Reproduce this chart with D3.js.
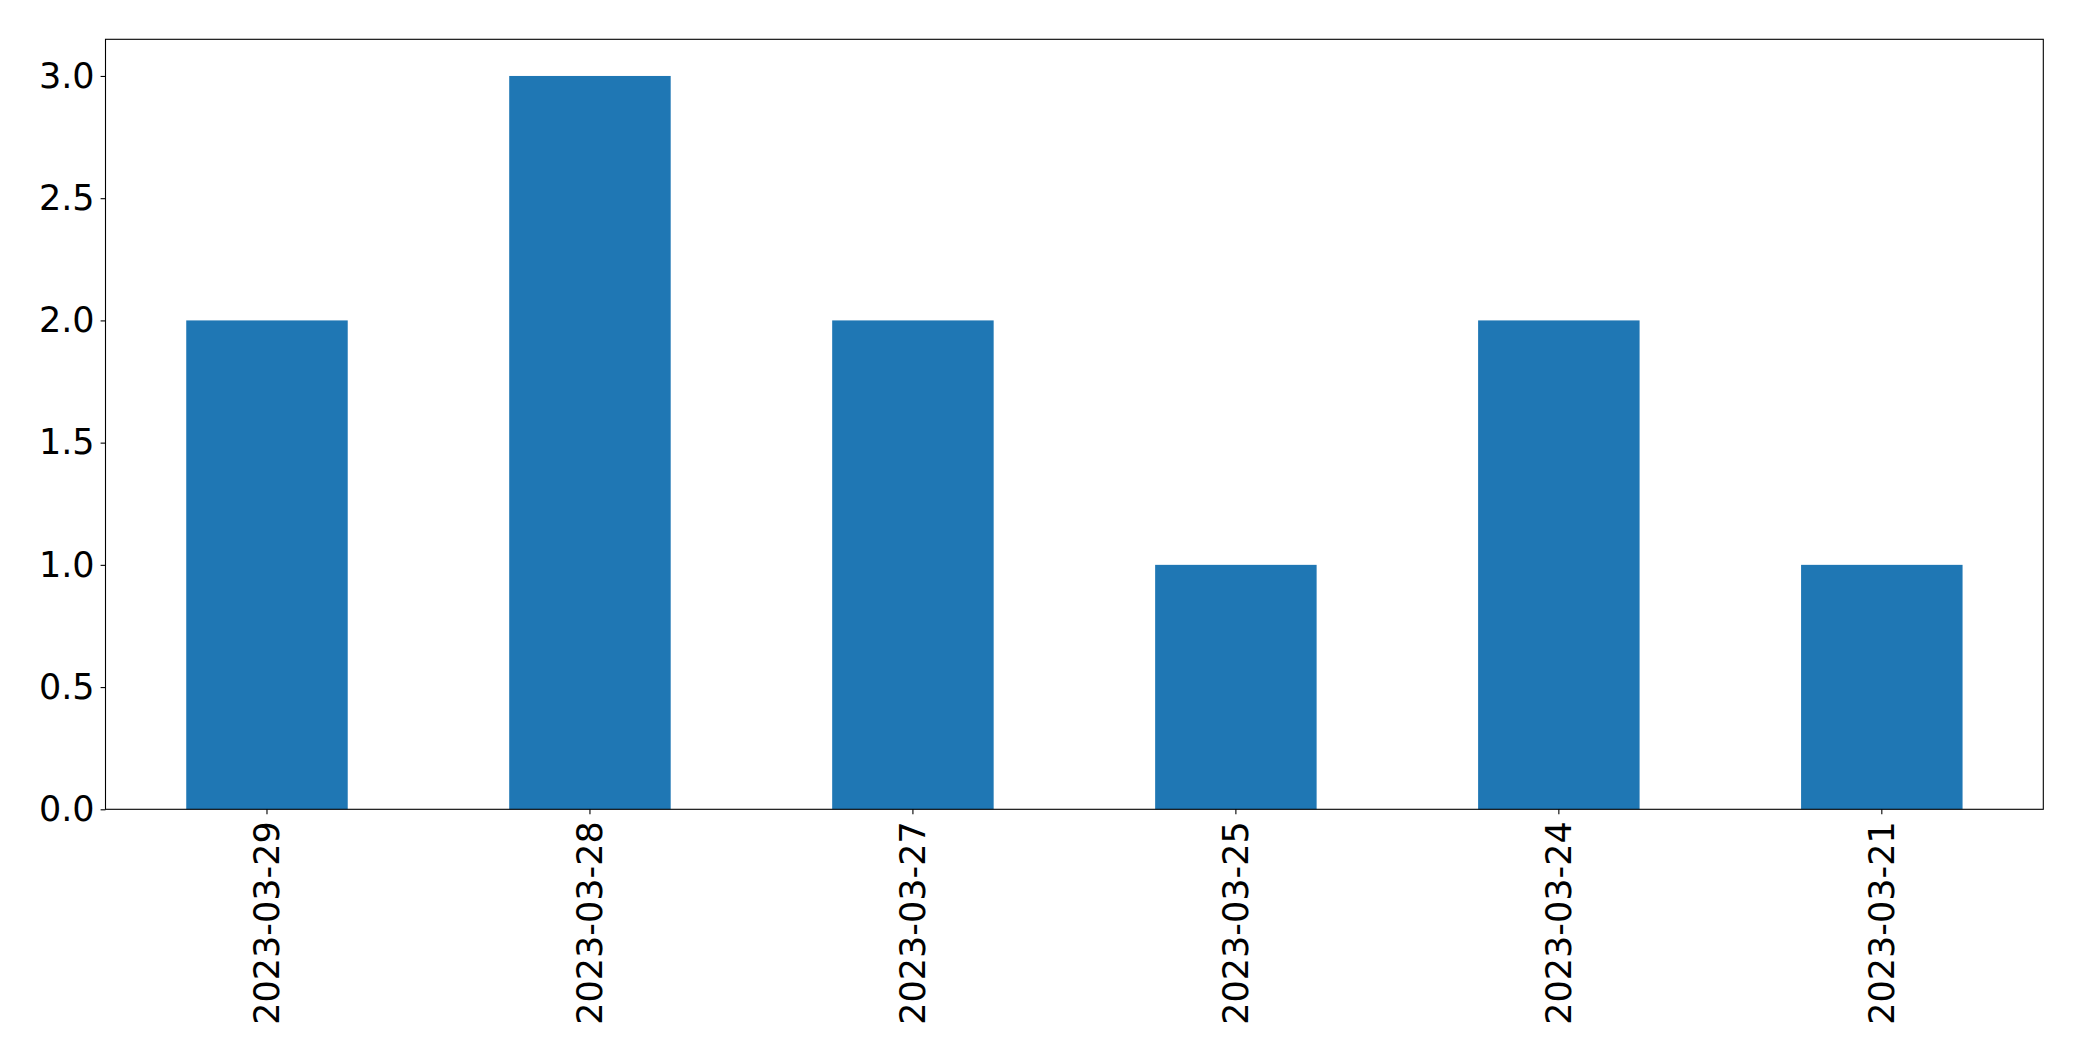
<!DOCTYPE html>
<html>
<head>
<meta charset="utf-8">
<script src="https://cdn.jsdelivr.net/npm/d3@7"></script>
<style>
  html, body { margin: 0; padding: 0; background: #fff; }
  svg { display: block; }
  text { font-family: "DejaVu Sans", sans-serif; fill: #000; }
</style>
</head>
<body>
<svg id="chart" width="2082" height="1061"></svg>
<script>
const categories = ["2023-03-29", "2023-03-28", "2023-03-27", "2023-03-25", "2023-03-24", "2023-03-21"];
const values = [2, 3, 2, 1, 2, 1];
const yTicks = [0.0, 0.5, 1.0, 1.5, 2.0, 2.5, 3.0];

const W = 2082, H = 1061;
const m = { left: 105.5, right: W - 2043.3, top: 39.3, bottom: H - 809.3 };
const svg = d3.select("#chart");

const x = d3.scaleBand()
  .domain(categories)
  .range([m.left, W - m.right])
  .paddingInner(0.5)
  .paddingOuter(0.25);

const yMax = d3.max(values) * 1.05;
const y = d3.scaleLinear().domain([0, yMax]).range([H - m.bottom, m.top]);

// bars
svg.append("g")
  .selectAll("rect")
  .data(categories.map((c, i) => ({ c, v: values[i] })))
  .join("rect")
  .attr("x", d => x(d.c))
  .attr("width", x.bandwidth())
  .attr("y", d => y(d.v))
  .attr("height", d => y(0) - y(d.v))
  .attr("fill", "#1f77b4");

// y axis
const yAxis = svg.append("g")
  .attr("transform", `translate(${m.left},0)`)
  .call(d3.axisLeft(y).tickValues(yTicks).tickFormat(d3.format(".1f")).tickSizeOuter(0).tickSize(4.9).tickPadding(6));
yAxis.select(".domain").remove();
yAxis.selectAll("line").attr("stroke", "#000").attr("stroke-width", 1.1);
yAxis.selectAll("text").style("font-size", "35px").attr("fill", "#000");

// x axis
const xAxis = svg.append("g")
  .attr("transform", `translate(0,${H - m.bottom})`)
  .call(d3.axisBottom(x).tickSizeOuter(0).tickSize(4.9).tickPadding(7));
xAxis.select(".domain").remove();
xAxis.selectAll("line").attr("stroke", "#000").attr("stroke-width", 1.1);
xAxis.selectAll("text")
  .style("font-size", "35px")
  .attr("fill", "#000")
  .attr("text-anchor", "end")
  .attr("transform", "rotate(-90)")
  .attr("x", -12)
  .attr("y", 0)
  .attr("dy", "0.35em");

// frame
svg.append("rect")
  .attr("x", m.left)
  .attr("y", m.top)
  .attr("width", W - m.right - m.left)
  .attr("height", H - m.bottom - m.top)
  .attr("fill", "none")
  .attr("stroke", "#000")
  .attr("stroke-width", 1.1);
</script>
</body>
</html>
